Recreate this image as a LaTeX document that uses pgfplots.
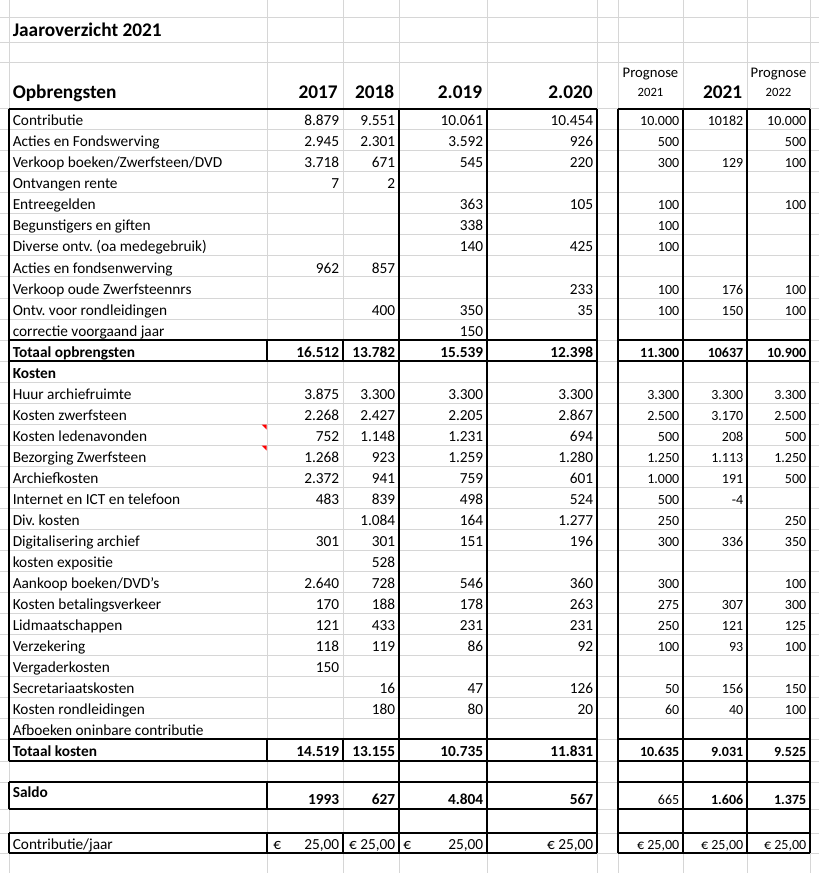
\documentclass[border=0pt]{standalone}
\usepackage{pgfplots}
\pgfplotsset{compat=1.18}
\usepackage{fontspec}
\setmainfont{Carlito}
\frenchspacing

% one pixel of the sheet = 0.75pt
\tikzset{
  lab/.style={anchor=base west, inner sep=0pt, font=\fontsize{11.5}{13}\selectfont},
  num/.style={anchor=base east, inner sep=0pt, font=\fontsize{11.5}{13}\selectfont},
  pnum/.style={anchor=base east, inner sep=0pt, font=\fontsize{10.5}{12}\selectfont},
  head/.style={anchor=base east, inner sep=0pt, font=\fontsize{14.5}{16}\selectfont\bfseries},
}
% #1 baseline, #2 label, #3-#6 years 2017-2020, #7 prognose 2021, #8 2021, #9 prognose 2022
\newcommand\sheetrow[9]{%
  \node[lab] at (axis cs:12.5,#1) {#2};
  \node[num] at (axis cs:339.5,#1) {#3};
  \node[num] at (axis cs:395.5,#1) {#4};
  \node[num] at (axis cs:483.5,#1) {#5};
  \node[num] at (axis cs:593.5,#1) {#6};
  \node[pnum] at (axis cs:679.5,#1) {#7};
  \node[pnum] at (axis cs:743.5,#1) {#8};
  \node[pnum] at (axis cs:806.5,#1) {#9};
}

\begin{document}
\begin{tikzpicture}
\begin{axis}[
  width=614.25pt, height=654.75pt, scale only axis,
  xmin=0, xmax=819, ymin=0, ymax=873, y dir=reverse,
  hide axis, unbounded coords=jump,
]
% sheet gridlines
\addplot[black!16, line width=0.75pt] coordinates {
  (0,18)(819,18) (nan,nan) (0,43)(819,43) (nan,nan) (0,63)(819,63) (nan,nan)
  (0,108.5)(819,108.5) (nan,nan) (0,130)(819,130) (nan,nan) (0,151)(819,151) (nan,nan)
  (0,172)(819,172) (nan,nan) (0,193)(819,193) (nan,nan) (0,214)(819,214) (nan,nan)
  (0,235)(819,235) (nan,nan) (0,256)(819,256) (nan,nan) (0,277)(819,277) (nan,nan)
  (0,298)(819,298) (nan,nan) (0,319)(819,319) (nan,nan) (0,340)(819,340) (nan,nan)
  (0,361)(819,361) (nan,nan) (0,382)(819,382) (nan,nan) (0,403)(819,403) (nan,nan)
  (0,424)(819,424) (nan,nan) (0,445)(819,445) (nan,nan) (0,466)(819,466) (nan,nan)
  (0,487)(819,487) (nan,nan) (0,508)(819,508) (nan,nan) (0,529)(819,529) (nan,nan)
  (0,550)(819,550) (nan,nan) (0,571)(819,571) (nan,nan) (0,592)(819,592) (nan,nan)
  (0,613)(819,613) (nan,nan) (0,634)(819,634) (nan,nan) (0,655)(819,655) (nan,nan)
  (0,676)(819,676) (nan,nan) (0,697)(819,697) (nan,nan) (0,718)(819,718) (nan,nan)
  (0,739)(819,739) (nan,nan) (0,761)(819,761) (nan,nan) (0,782)(819,782) (nan,nan)
  (0,809)(819,809) (nan,nan) (0,833)(819,833) (nan,nan) (0,853)(819,853) (nan,nan)
  (9,0)(9,873) (nan,nan) (267,0)(267,873) (nan,nan) (343,0)(343,873) (nan,nan)
  (399,0)(399,873) (nan,nan) (487,0)(487,873) (nan,nan) (597,0)(597,873) (nan,nan)
  (618,0)(618,873) (nan,nan) (683,0)(683,873) (nan,nan) (747,0)(747,873) (nan,nan)
  (810,0)(810,873)
};
% cell borders
\addplot[black, line width=1.1pt] coordinates {
  (9,109)(597,109) (nan,nan) (618,109)(810,109) (nan,nan)
  (9,340)(597,340) (nan,nan) (618,340)(810,340) (nan,nan)
  (9,361)(597,361) (nan,nan) (618,361)(810,361) (nan,nan)
  (9,739)(597,739) (nan,nan) (618,739)(810,739) (nan,nan)
  (9,761)(597,761) (nan,nan) (618,761)(810,761) (nan,nan)
  (9,782)(597,782) (nan,nan) (618,782)(810,782) (nan,nan)
  (9,809)(597,809) (nan,nan) (618,809)(810,809) (nan,nan)
  (9,833)(597,833) (nan,nan) (618,833)(810,833) (nan,nan)
  (9,853)(597,853) (nan,nan) (618,853)(810,853) (nan,nan)
  (9,109)(9,761) (nan,nan) (9,782)(9,809) (nan,nan) (9,833)(9,853) (nan,nan)
  (267,340)(267,361) (nan,nan) (267,739)(267,761) (nan,nan) (267,782)(267,809) (nan,nan) (267,833)(267,853) (nan,nan)
  (343,340)(343,361) (nan,nan) (343,739)(343,761) (nan,nan) (343,833)(343,853) (nan,nan)
  (399,109)(399,853) (nan,nan) (487,109)(487,853) (nan,nan) (597,109)(597,853) (nan,nan)
  (618,109)(618,853) (nan,nan) (683,109)(683,853) (nan,nan) (747,109)(747,853) (nan,nan)
  (810,109)(810,853)
};
% comment markers
\addplot[fill=red, draw=none] coordinates {(261.5,424.5) (266.5,424.5) (266.5,429.5)} --cycle;
\addplot[fill=red, draw=none] coordinates {(261.5,445.5) (266.5,445.5) (266.5,450.5)} --cycle;

% headings
\node[anchor=base west, inner sep=0pt, font=\fontsize{14.5}{16}\selectfont\bfseries] at (axis cs:12.5,37) {Jaaroverzicht 2021};
\node[anchor=base west, inner sep=0pt, font=\fontsize{14.5}{16}\selectfont\bfseries] at (axis cs:12.5,99) {Opbrengsten};
\node[head] at (axis cs:338,99) {2017};
\node[head] at (axis cs:394.5,99) {2018};
\node[head] at (axis cs:482.5,99) {2.019};
\node[head] at (axis cs:593,99) {2.020};
\node[head] at (axis cs:742.5,99) {2021};
\node[anchor=base, inner sep=0pt, font=\fontsize{11}{12}\selectfont] at (axis cs:650.5,78) {Prognose};
\node[anchor=base, inner sep=0pt, font=\fontsize{9.5}{11}\selectfont] at (axis cs:650.5,97) {2021};
\node[anchor=base, inner sep=0pt, font=\fontsize{11}{12}\selectfont] at (axis cs:778.5,78) {Prognose};
\node[anchor=base, inner sep=0pt, font=\fontsize{9.5}{11}\selectfont] at (axis cs:778.5,97) {2022};

% Opbrengsten
\sheetrow{126}{Contributie}{8.879}{9.551}{10.061}{10.454}{10.000}{10182}{10.000}
\sheetrow{147}{Acties en Fondswerving}{2.945}{2.301}{3.592}{926}{500}{}{500}
\sheetrow{168}{Verkoop boeken/Zwerfsteen/DVD}{3.718}{671}{545}{220}{300}{129}{100}
\sheetrow{189}{Ontvangen rente}{7}{2}{}{}{}{}{}
\sheetrow{210}{Entreegelden}{}{}{363}{105}{100}{}{100}
\sheetrow{231}{Begunstigers en giften}{}{}{338}{}{100}{}{}
\sheetrow{252}{Diverse ontv. (oa medegebruik)}{}{}{140}{425}{100}{}{}
\sheetrow{273}{Acties en fondsenwerving}{962}{857}{}{}{}{}{}
\sheetrow{294}{Verkoop oude Zwerfsteennrs}{}{}{}{233}{100}{176}{100}
\sheetrow{315}{Ontv. voor rondleidingen}{}{400}{350}{35}{100}{150}{100}
\sheetrow{336}{correctie voorgaand jaar}{}{}{150}{}{}{}{}
\sheetrow{357}{\bfseries Totaal opbrengsten}{\bfseries 16.512}{\bfseries 13.782}{\bfseries 15.539}{\bfseries 12.398}{\bfseries 11.300}{\bfseries 10637}{\bfseries 10.900}
% Kosten
\sheetrow{378}{\bfseries Kosten}{}{}{}{}{}{}{}
\sheetrow{399}{Huur archiefruimte}{3.875}{3.300}{3.300}{3.300}{3.300}{3.300}{3.300}
\sheetrow{420}{Kosten zwerfsteen}{2.268}{2.427}{2.205}{2.867}{2.500}{3.170}{2.500}
\sheetrow{441}{Kosten ledenavonden}{752}{1.148}{1.231}{694}{500}{208}{500}
\sheetrow{462}{Bezorging Zwerfsteen}{1.268}{923}{1.259}{1.280}{1.250}{1.113}{1.250}
\sheetrow{483}{Archiefkosten}{2.372}{941}{759}{601}{1.000}{191}{500}
\sheetrow{504}{Internet en ICT en telefoon}{483}{839}{498}{524}{500}{-4}{}
\sheetrow{525}{Div. kosten}{}{1.084}{164}{1.277}{250}{}{250}
\sheetrow{546}{Digitalisering archief}{301}{301}{151}{196}{300}{336}{350}
\sheetrow{567}{kosten expositie}{}{528}{}{}{}{}{}
\sheetrow{588}{Aankoop boeken/DVD's}{2.640}{728}{546}{360}{300}{}{100}
\sheetrow{609}{Kosten betalingsverkeer}{170}{188}{178}{263}{275}{307}{300}
\sheetrow{630}{Lidmaatschappen}{121}{433}{231}{231}{250}{121}{125}
\sheetrow{651}{Verzekering}{118}{119}{86}{92}{100}{93}{100}
\sheetrow{672}{Vergaderkosten}{150}{}{}{}{}{}{}
\sheetrow{693}{Secretariaatskosten}{}{16}{47}{126}{50}{156}{150}
\sheetrow{714}{Kosten rondleidingen}{}{180}{80}{20}{60}{40}{100}
\sheetrow{735}{Afboeken oninbare contributie}{}{}{}{}{}{}{}
\sheetrow{756.5}{\bfseries Totaal kosten}{\bfseries 14.519}{\bfseries 13.155}{\bfseries 10.735}{\bfseries 11.831}{\bfseries 10.635}{\bfseries 9.031}{\bfseries 9.525}
% Saldo
\node[lab] at (axis cs:12.5,797) {\bfseries Saldo};
\sheetrow{804.5}{}{\bfseries 1993}{\bfseries 627}{\bfseries 4.804}{\bfseries 567}{665}{\bfseries 1.606}{\bfseries 1.375}
% Contributie per jaar
\sheetrow{849}{Contributie/jaar}{25,00}{€ 25,00}{25,00}{€ 25,00}{€ 25,00}{€ 25,00}{€ 25,00}
\node[lab] at (axis cs:273,849) {€};
\node[lab] at (axis cs:403,849) {€};
\end{axis}
\end{tikzpicture}
\end{document}
